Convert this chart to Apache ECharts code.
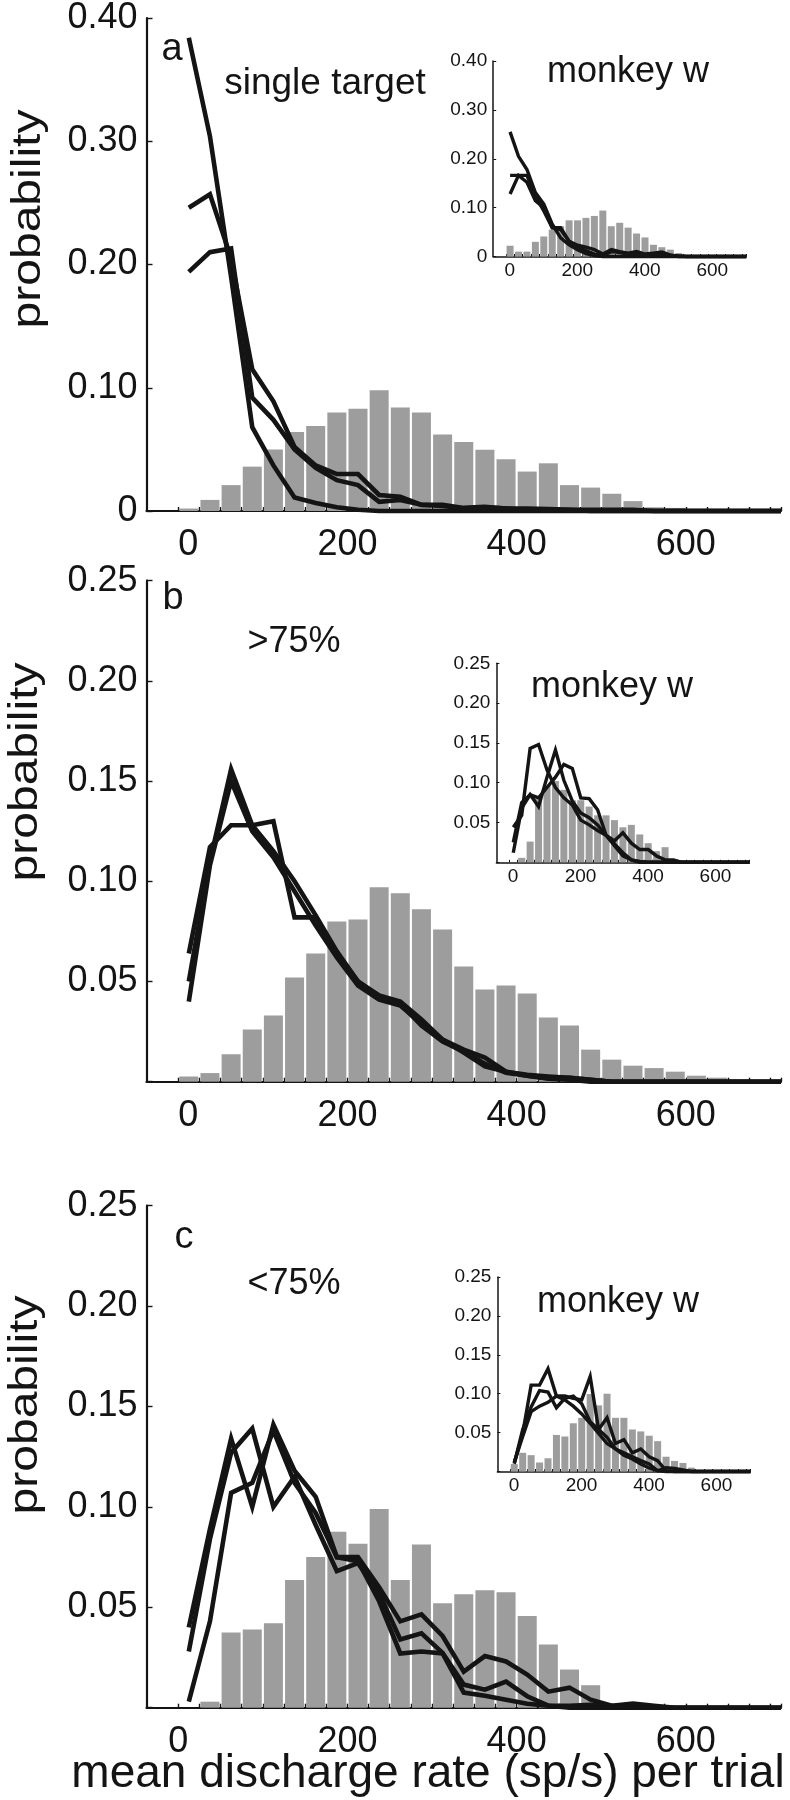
<!DOCTYPE html>
<html>
<head>
<meta charset="utf-8">
<script src="https://cdn.jsdelivr.net/npm/echarts@6/dist/echarts.min.js"></script>
<style>
  html, body { margin: 0; padding: 0; background: #fff; }
  #chart { width: 790px; height: 1800px; }
</style>
</head>
<body>
<div id="chart"></div>
<script>
// bin centres, sp/s (25 sp/s bins)
const binCenters = [12.5, 37.5, 62.5, 87.5, 112.5, 137.5, 162.5, 187.5, 212.5, 237.5,
  262.5, 287.5, 312.5, 337.5, 362.5, 387.5, 412.5, 437.5, 462.5, 487.5,
  512.5, 537.5, 562.5, 587.5, 612.5, 637.5, 662.5, 687.5, 712.5];
const xTickLabels = [0, 200, 400, 600];

// ---- panel a : single target
const barsA = [0.002, 0.009, 0.021, 0.036, 0.050, 0.064, 0.069, 0.080, 0.083, 0.098,
  0.084, 0.080, 0.062, 0.056, 0.0496, 0.042, 0.032, 0.0387, 0.021, 0.019,
  0.014, 0.008, 0.003, 0.0025, 0.001];
const lineA1 = [0.384, 0.304, 0.19, 0.068, 0.037, 0.011, 0.0065, 0.003, 0.001, 0,
  0, 0, 0, 0, 0, 0, 0, 0, 0, 0, 0, 0, 0, 0, 0, 0, 0, 0, 0];
const lineA2 = [0.246, 0.257, 0.205, 0.115, 0.089, 0.052, 0.037, 0.030, 0.030, 0.013,
  0.0115, 0.005, 0.005, 0.0025, 0.0035, 0.002, 0.002, 0.0015, 0.001, 0.001,
  0.001, 0.001, 0, 0, 0, 0, 0, 0, 0];
const lineA3 = [0.194, 0.21, 0.213, 0.092, 0.074, 0.050, 0.035, 0.025, 0.021, 0.0075,
  0.009, 0.005, 0.004, 0.002, 0.003, 0.002, 0.001, 0.001, 0.001, 0,
  0, 0, 0, 0, 0, 0, 0, 0, 0];
// inset a (monkey w)
const barsInA = [0.022, 0.010, 0.010, 0.030, 0.041, 0.055, 0.062, 0.074, 0.074, 0.079,
  0.083, 0.094, 0.062, 0.069, 0.059, 0.047, 0.039, 0.024, 0.019, 0.014,
  0.007, 0.003, 0.001];
const lineInA1 = [0.255, 0.205, 0.178, 0.131, 0.107, 0.066, 0.038, 0.024, 0.014, 0.006,
  0.002, 0, 0, 0, 0, 0, 0, 0, 0, 0, 0, 0, 0, 0, 0, 0, 0, 0, 0];
const lineInA2 = [0.128, 0.166, 0.152, 0.114, 0.100, 0.059, 0.059, 0.031, 0.023, 0.019,
  0.014, 0.005, 0.014, 0.010, 0.007, 0.010, 0.005, 0.007, 0.009, 0.003,
  0, 0, 0, 0, 0, 0, 0, 0, 0];
const lineInA3 = [0.166, 0.166, 0.166, 0.124, 0.093, 0.059, 0.055, 0.031, 0.021, 0.012,
  0.005, 0.002, 0.010, 0.008, 0.005, 0.004, 0.003, 0.004, 0.006, 0.002,
  0.001, 0, 0, 0, 0, 0, 0, 0, 0];

// ---- panel b : >75%
const barsB = [0.0026, 0.0043, 0.0137, 0.026, 0.033, 0.052, 0.064, 0.080, 0.081, 0.097,
  0.094, 0.086, 0.076, 0.0575, 0.046, 0.048, 0.044, 0.032, 0.028, 0.016,
  0.011, 0.008, 0.0068, 0.005, 0.003, 0.002, 0.001];
const lineB1 = [0.050, 0.110, 0.156, 0.128, 0.115, 0.100, 0.083, 0.065, 0.050, 0.043,
  0.040, 0.031, 0.021, 0.016, 0.012, 0.005, 0.0034, 0.0026, 0.002, 0.001,
  0, 0, 0, 0, 0, 0, 0, 0, 0];
const lineB2 = [0.040, 0.108, 0.150, 0.125, 0.112, 0.095, 0.078, 0.062, 0.048, 0.041,
  0.038, 0.029, 0.021, 0.0145, 0.0077, 0.005, 0.003, 0.0017, 0.002, 0.001,
  0, 0, 0, 0, 0, 0, 0, 0, 0];
const lineB3 = [0.064, 0.117, 0.128, 0.128, 0.130, 0.082, 0.082, 0.064, 0.050, 0.042,
  0.039, 0.028, 0.020, 0.015, 0.009, 0.0045, 0.003, 0.0015, 0.001, 0,
  0, 0, 0, 0, 0, 0, 0, 0, 0];
const barsInB = [0, 0.0056, 0.026, 0.081, 0.096, 0.102, 0.091, 0.078, 0.078, 0.070,
  0.059, 0.059, 0.053, 0.044, 0.047, 0.035, 0.024, 0.014, 0.019];
const lineInB1 = [0.044, 0.059, 0.143, 0.148, 0.116, 0.094, 0.081, 0.072, 0.053, 0.047,
  0.040, 0.034, 0.023, 0.012, 0.003, 0.001, 0, 0, 0, 0, 0, 0, 0, 0, 0, 0, 0, 0, 0];
const lineInB2 = [0.012, 0.068, 0.085, 0.070, 0.107, 0.141, 0.103, 0.077, 0.062, 0.056,
  0.047, 0.034, 0.021, 0.008, 0.003, 0, 0, 0, 0, 0, 0, 0, 0, 0, 0, 0, 0, 0, 0];
const lineInB3 = [0.025, 0.075, 0.085, 0.081, 0.094, 0.107, 0.123, 0.118, 0.081, 0.080,
  0.066, 0.034, 0.027, 0.037, 0.024, 0.016, 0.016, 0.008, 0.003, 0.003,
  0, 0, 0, 0, 0, 0, 0, 0, 0];

// ---- panel c : <75%
const barsC = [0, 0.003, 0.0374, 0.039, 0.042, 0.0636, 0.075, 0.0876, 0.0817, 0.099,
  0.0636, 0.0813, 0.052, 0.0565, 0.0585, 0.0575, 0.0457, 0.0315, 0.019, 0.0112];
const lineC1 = [0.040, 0.089, 0.134, 0.100, 0.141, 0.118, 0.105, 0.075, 0.075, 0.060,
  0.043, 0.0465, 0.0357, 0.018, 0.0257, 0.023, 0.0165, 0.008, 0.010, 0.004,
  0.001, 0.002, 0.001, 0, 0, 0, 0, 0, 0];
const lineC2 = [0.028, 0.084, 0.127, 0.139, 0.100, 0.115, 0.091, 0.068, 0.072, 0.057,
  0.034, 0.037, 0.0273, 0.0115, 0.009, 0.013, 0.0057, 0.001, 0, 0,
  0, 0, 0, 0, 0, 0, 0, 0, 0];
const lineC3 = [0.003, 0.043, 0.107, 0.112, 0.138, 0.112, 0.097, 0.075, 0.073, 0.053,
  0.027, 0.028, 0.027, 0.0075, 0.006, 0.004, 0.002, 0.001, 0.001, 0.0014,
  0.001, 0, 0, 0, 0, 0, 0, 0, 0];
const barsInC = [0.0096, 0.024, 0.021, 0.0116, 0.017, 0.047, 0.045, 0.062, 0.069, 0.0995,
  0.085, 0.100, 0.069, 0.069, 0.054, 0.0515, 0.046, 0.039, 0.019, 0.0136,
  0.011, 0.005];
const lineInC1 = [0.011, 0.049, 0.111, 0.111, 0.132, 0.097, 0.097, 0.094, 0.092, 0.122,
  0.054, 0.069, 0.036, 0.041, 0.024, 0.029, 0.019, 0.014, 0.001, 0,
  0, 0, 0, 0, 0, 0, 0, 0, 0];
const lineInC2 = [0.010, 0.054, 0.083, 0.104, 0.102, 0.082, 0.094, 0.097, 0.087, 0.064,
  0.054, 0.044, 0.029, 0.024, 0.019, 0.014, 0.0096, 0.001, 0, 0,
  0, 0, 0, 0, 0, 0, 0, 0, 0];
const lineInC3 = [0.012, 0.045, 0.077, 0.084, 0.089, 0.097, 0.092, 0.084, 0.074, 0.062,
  0.049, 0.036, 0.029, 0.021, 0.016, 0.0096, 0.0045, 0.001, 0.005, 0.004,
  0.002, 0, 0, 0, 0, 0, 0, 0, 0];

const FONT = '"Liberation Sans", Arial, Helvetica, sans-serif';
const INK = '#141414';
const BAR = '#9d9d9d';

// x tick marks at bin edges + axis end
let edgeTicks = [];
for (let e = 0; e <= 700; e += 25) edgeTicks.push(e);
edgeTicks.push(712.5);

// zeroShift: the "0" tick label sits a little right of the tick in the original
const panels = [
  // main a
  { box: { left: 146.5, top: 10.3, width: 634.5, height: 500.7 }, ymax: 0.4, yint: 0.1, zero: true, inset: false,
    zeroShift: 20, bars: barsA, lines: [lineA1, lineA2, lineA3] },
  // inset a
  { box: { left: 493.2, top: 61, width: 253, height: 195.5 }, ymax: 0.4, yint: 0.1, zero: true, inset: true,
    zeroShift: 8, bars: barsInA, lines: [lineInA1, lineInA2, lineInA3] },
  // main b
  { box: { left: 146.5, top: 580.7, width: 634.5, height: 501 }, ymax: 0.25, yint: 0.05, zero: false, inset: false,
    zeroShift: 20, bars: barsB, lines: [lineB1, lineB2, lineB3] },
  // inset b
  { box: { left: 496.4, top: 663.3, width: 253, height: 199 }, ymax: 0.25, yint: 0.05, zero: false, inset: true,
    zeroShift: 8, bars: barsInB, lines: [lineInB1, lineInB2, lineInB3] },
  // main c
  { box: { left: 146.5, top: 1205.7, width: 634.5, height: 502 }, ymax: 0.25, yint: 0.05, zero: false, inset: false,
    zeroShift: 0, bars: barsC, lines: [lineC1, lineC2, lineC3] },
  // inset c
  { box: { left: 497.4, top: 1277, width: 253, height: 194.5 }, ymax: 0.25, yint: 0.05, zero: false, inset: true,
    zeroShift: 8, bars: barsInC, lines: [lineInC1, lineInC2, lineInC3] }
];

let grids = [], xAxes = [], yAxes = [], series = [];
panels.forEach(function (p, i) {
  const fs = p.inset ? 19 : 36;
  grids.push(Object.assign({ containLabel: false }, p.box));
  xAxes.push({
    gridIndex: i, type: 'value', min: -37.5, max: 712.5,
    axisLine: { show: true, onZero: false, lineStyle: { color: INK, width: p.inset ? 1.5 : 2.2 } },
    axisTick: { show: true, inside: true, length: p.inset ? 2.5 : 4, customValues: edgeTicks,
      lineStyle: { color: INK, width: p.inset ? 1 : 1.4 } },
    axisLabel: {
      show: true, customValues: xTickLabels, margin: p.inset ? 5 : 16,
      fontFamily: FONT, fontSize: fs, color: INK,
      formatter: function (v) {
        if (v === 0 && p.zeroShift) return '{z|0}';
        return p.inset ? '{s|' + v + '}' : String(v);
      },
      rich: {
        z: { fontFamily: FONT, fontSize: fs, color: INK, padding: [0, 0, 0, p.zeroShift] },
        s: { fontFamily: FONT, fontSize: fs, color: INK, padding: [0, 0, 0, 8] }
      }
    },
    splitLine: { show: false }
  });
  yAxes.push({
    gridIndex: i, type: 'value', min: 0, max: p.ymax, interval: p.yint,
    axisLine: { show: true, onZero: false, lineStyle: { color: INK, width: p.inset ? 1.5 : 2.2 } },
    axisTick: { show: true, inside: true, length: p.inset ? 3 : 6,
      lineStyle: { color: INK, width: p.inset ? 1 : 1.4 } },
    axisLabel: {
      margin: p.inset ? 6 : 9, fontFamily: FONT, fontSize: fs, color: INK,
      formatter: function (v) {
        if (v === 0) return p.zero ? '0' : '';
        return v.toFixed(2);
      }
    },
    splitLine: { show: false }
  });
  series.push({
    type: 'bar', xAxisIndex: i, yAxisIndex: i,
    data: p.bars.map(function (v, k) { return [binCenters[k], v]; }),
    barWidth: p.inset ? 7 : 19,
    itemStyle: { color: BAR },
    silent: true, animation: false, z: 2
  });
  p.lines.forEach(function (ln) {
    series.push({
      type: 'line', xAxisIndex: i, yAxisIndex: i,
      data: ln.map(function (v, k) { return [binCenters[k], v]; }),
      showSymbol: false, symbol: 'none', clip: false,
      lineStyle: { color: INK, width: p.inset ? 3.4 : 4.6, join: 'miter' },
      silent: true, animation: false, z: 3
    });
  });
});

function label(txt, x, y, size, rot, sx) {
  return {
    type: 'text', x: x, y: y, rotation: rot || 0, scaleX: sx || 1, z: 10,
    style: { text: txt, font: 'normal ' + size + 'px ' + FONT, fill: INK,
      textAlign: 'center', textVerticalAlign: 'middle' }
  };
}

const graphics = [
  label('a', 172, 50, 38),
  label('single target', 325, 84, 37),
  label('monkey w', 628, 72, 36),
  label('b', 173, 599, 38),
  label('>75%', 294, 642, 36),
  label('monkey w', 612, 687, 36),
  label('c', 184, 1238, 38),
  label('<75%', 294, 1284, 36),
  label('monkey w', 618, 1302, 36),
  label('probability', 29, 219, 40, Math.PI / 2, 1.2),
  label('probability', 26, 772, 40, Math.PI / 2, 1.2),
  label('probability', 26, 1405, 40, Math.PI / 2, 1.2),
  label('mean discharge rate (sp/s) per trial', 428, 1774, 46)
];

const chart = echarts.init(document.getElementById('chart'));
chart.setOption({
  backgroundColor: '#ffffff',
  animation: false,
  grid: grids,
  xAxis: xAxes,
  yAxis: yAxes,
  series: series,
  graphic: graphics
});
</script>
</body>
</html>
